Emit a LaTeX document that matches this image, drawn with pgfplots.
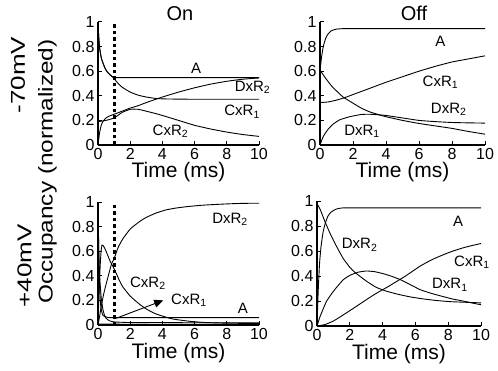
\documentclass[border=0pt]{standalone}
\usepackage{pgfplots}
\pgfplotsset{compat=1.18}
\usepackage{fontspec}
\setmainfont{Liberation Sans}
\usetikzlibrary{arrows.meta}

\tikzset{
  lab/.style={font=\fontsize{15}{15}\selectfont, inner sep=0pt},
  dotl/.style={sharp plot, line width=3pt, dash pattern=on 3.5pt off 3pt},
  side/.style={rotate=90, font=\fontsize{20}{20}\selectfont, inner sep=0pt},
}
\pgfplotsset{
  panel/.style={
    scale only axis, axis lines*=left, xmin=0, xmax=10, ymin=0, ymax=1,
    xtick={0,2,4,6,8,10}, ytick={0,0.2,0.4,0.6,0.8,1},
    tick align=inside, major tick length=4pt,
    axis line style={line width=1.3pt, -},
    every tick/.style={black, line width=1pt},
    tick label style={font=\fontsize{16}{16}\selectfont},
    /pgf/number format/assume math mode=true,
    xlabel={Time (ms)},
    xlabel style={at={(axis description cs:0.5,0)}, anchor=base, yshift=-33pt, font=\fontsize{21}{21}\selectfont, inner sep=0pt},
    clip=false,
    cycle list={black,line width=0.9pt,mark=none,smooth,tension=0.3\\},
  },
}

\begin{document}
\begin{tikzpicture}[x=1pt,y=1pt]
\useasboundingbox (0,0) rectangle (498,370);

% ---------- top left: -70mV On ----------
\begin{axis}[panel, at={(98pt,225pt)}, width=161pt, height=123pt]
\addplot coordinates {(0,1) (0.05,0.87) (0.1,0.79) (0.2,0.71) (0.3,0.67) (0.45,0.62) (0.6,0.59) (0.8,0.565) (1.0,0.548) (1.5,0.548) (3,0.548) (5,0.548) (7,0.548) (10,0.548)};
\addplot coordinates {(0,1) (0.05,0.87) (0.1,0.79) (0.2,0.71) (0.3,0.67) (0.45,0.62) (0.6,0.59) (0.8,0.565) (1.0,0.54) (1.25,0.5) (1.5,0.47) (2,0.43) (2.5,0.405) (3,0.39) (3.5,0.38) (4,0.375) (5,0.373) (6,0.372) (8,0.372) (10,0.372)};
\addplot coordinates {(0,0) (0.1,0.1) (0.2,0.16) (0.3,0.19) (0.5,0.22) (0.7,0.235) (1.0,0.25) (1.5,0.275) (2,0.30) (2.5,0.32) (3,0.345) (4,0.39) (5,0.43) (6,0.465) (7,0.495) (8,0.518) (9,0.535) (10,0.545)};
\addplot coordinates {(0,0.19) (0.5,0.2) (1,0.22) (1.5,0.265) (2,0.29) (2.5,0.29) (3,0.275) (3.6,0.255) (4,0.24) (5,0.2) (6,0.16) (7,0.13) (8,0.105) (9,0.085) (10,0.07)};
\addplot[dotl] coordinates {(1,0) (1,1)};
\node[lab] at (axis cs:6.1,0.62) {A};
\node[lab] at (axis cs:9.6,0.47) {DxR\textsubscript{2}};
\node[lab] at (axis cs:8.95,0.27) {CxR\textsubscript{1}};
\node[lab] at (axis cs:4.5,0.11) {CxR\textsubscript{2}};
\end{axis}

% ---------- top right: -70mV Off ----------
\begin{axis}[panel, at={(320pt,225pt)}, width=165pt, height=123pt]
\addplot coordinates {(0,0.61) (0.1,0.72) (0.2,0.8) (0.35,0.87) (0.5,0.905) (0.7,0.93) (1,0.942) (1.4,0.946) (2,0.946) (4,0.946) (6,0.946) (8,0.946) (10,0.946)};
\addplot coordinates {(0,0.345) (0.5,0.35) (1,0.365) (1.5,0.385) (2,0.41) (3,0.46) (4,0.51) (5,0.555) (6,0.6) (7,0.64) (8,0.675) (9,0.70) (10,0.725)};
\addplot coordinates {(0,0.61) (0.3,0.55) (0.7,0.48) (1,0.44) (1.4,0.39) (2,0.34) (2.5,0.3) (3,0.27) (3.6,0.245) (4,0.23) (5,0.2) (6,0.175) (7,0.155) (8,0.135) (9,0.11) (10,0.088)};
\addplot coordinates {(0,0) (0.2,0.07) (0.5,0.13) (0.8,0.17) (1.2,0.205) (1.8,0.23) (2.5,0.248) (3,0.25) (3.6,0.245) (4,0.24) (5,0.22) (6,0.2) (7,0.19) (8,0.183) (9,0.18) (10,0.178)};
\node[lab] at (axis cs:7.3,0.84) {A};
\node[lab] at (axis cs:7.3,0.51) {CxR\textsubscript{1}};
\node[lab] at (axis cs:7.8,0.29) {DxR\textsubscript{2}};
\node[lab] at (axis cs:2.55,0.11) {DxR\textsubscript{1}};
\end{axis}

% ---------- bottom left: +40mV On ----------
\begin{axis}[panel, at={(98pt,45pt)}, width=161pt, height=123pt]
\addplot coordinates {(0,1) (0.03,0.75) (0.06,0.51) (0.1,0.32) (0.14,0.2) (0.2,0.13) (0.3,0.08) (0.5,0.065) (0.7,0.06) (1,0.06) (2,0.06) (4,0.06) (6,0.06) (8,0.06) (10,0.06)};
\addplot coordinates {(0,0.9) (0.05,0.6) (0.1,0.4) (0.2,0.22) (0.3,0.13) (0.4,0.08) (0.5,0.055) (0.7,0.035) (1,0.025) (2,0.02) (4,0.02) (6,0.018) (8,0.018) (10,0.018)};
\addplot coordinates {(0,0) (0.05,0.2) (0.1,0.38) (0.15,0.52) (0.2,0.61) (0.25,0.65) (0.35,0.64) (0.5,0.6) (0.75,0.52) (1.03,0.45) (1.3,0.37) (1.54,0.31) (2,0.235) (2.57,0.17) (3,0.13) (3.6,0.09) (4.6,0.05) (5.7,0.03) (6.7,0.02) (8,0.015) (10,0.012)};
\addplot coordinates {(0,0) (0.1,0.07) (0.2,0.15) (0.35,0.25) (0.5,0.33) (0.7,0.43) (0.85,0.5) (1.0,0.54) (1.25,0.63) (1.54,0.70) (2,0.78) (2.57,0.84) (3,0.875) (3.6,0.91) (4.2,0.935) (4.8,0.95) (5.5,0.962) (6.3,0.972) (7,0.978) (8.1,0.985) (9,0.989) (10,0.99)};
\addplot coordinates {(0,0.008) (2,0.006) (5,0.005) (10,0.005)};
\addplot[dotl] coordinates {(1,0) (1,1)};
\addplot[sharp plot, black, line width=0.9pt, -{Triangle[length=9pt,width=8pt]}] coordinates {(1.03,0.05) (4.05,0.2)};
\node[lab] at (axis cs:8.2,0.86) {DxR\textsubscript{2}};
\node[lab] at (axis cs:3.1,0.34) {CxR\textsubscript{2}};
\node[lab] at (axis cs:5.65,0.2) {CxR\textsubscript{1}};
\node[lab] at (axis cs:9.0,0.135) {A};
\end{axis}

% ---------- bottom right: +40mV Off ----------
\begin{axis}[panel, at={(317pt,44pt)}, width=164pt, height=125pt]
\addplot coordinates {(0,0) (0.08,0.3) (0.16,0.51) (0.25,0.64) (0.37,0.75) (0.5,0.82) (0.67,0.88) (0.85,0.91) (1.08,0.93) (1.3,0.94) (1.6,0.945) (2,0.945) (4,0.945) (6,0.945) (8,0.945) (10,0.945)};
\addplot coordinates {(0,0.98) (0.2,0.93) (0.47,0.84) (0.8,0.74) (1.18,0.64) (1.6,0.54) (2,0.47) (2.3,0.43) (3,0.36) (3.6,0.31) (4.2,0.28) (4.9,0.255) (5.6,0.235) (6.3,0.22) (7.2,0.205) (8.1,0.195) (9,0.19) (10,0.185)};
\addplot coordinates {(0,0) (0.2,0.08) (0.57,0.195) (0.9,0.26) (1.2,0.31) (1.6,0.37) (2,0.405) (2.5,0.43) (3,0.44) (3.5,0.435) (4,0.42) (4.5,0.4) (5.1,0.37) (5.7,0.33) (6.3,0.29) (7,0.26) (7.7,0.235) (8.3,0.215) (8.9,0.2) (9.5,0.183) (10,0.17)};
\addplot coordinates {(0,0) (0.5,0.012) (1,0.04) (1.5,0.08) (2.2,0.14) (3,0.21) (3.6,0.26) (4.4,0.32) (4.9,0.36) (5.4,0.4) (6.3,0.48) (7,0.53) (7.7,0.57) (8.3,0.6) (8.9,0.625) (9.5,0.645) (10,0.66)};
\node[lab] at (axis cs:8.6,0.84) {A};
\node[lab] at (axis cs:2.6,0.65) {DxR\textsubscript{2}};
\node[lab] at (axis cs:9.45,0.51) {CxR\textsubscript{1}};
\node[lab] at (axis cs:8.1,0.33) {DxR\textsubscript{1}};
\end{axis}

% ---------- titles and side labels ----------
\node[anchor=base, font=\fontsize{20}{20}\selectfont, inner sep=0pt] at (180,349.5) {On};
\node[anchor=base, font=\fontsize{20}{20}\selectfont, inner sep=0pt] at (414,349.5) {Off};
\node[side] at (18,295) {\scalebox{1.3}[1]{-70mV}};
\node[side] at (24.5,104) {\scalebox{1.3}[1]{+40mV}};
\node[side] at (47.5,198.5) {\scalebox{1.22}[1]{Occupancy (normalized)}};
\end{tikzpicture}
\end{document}
